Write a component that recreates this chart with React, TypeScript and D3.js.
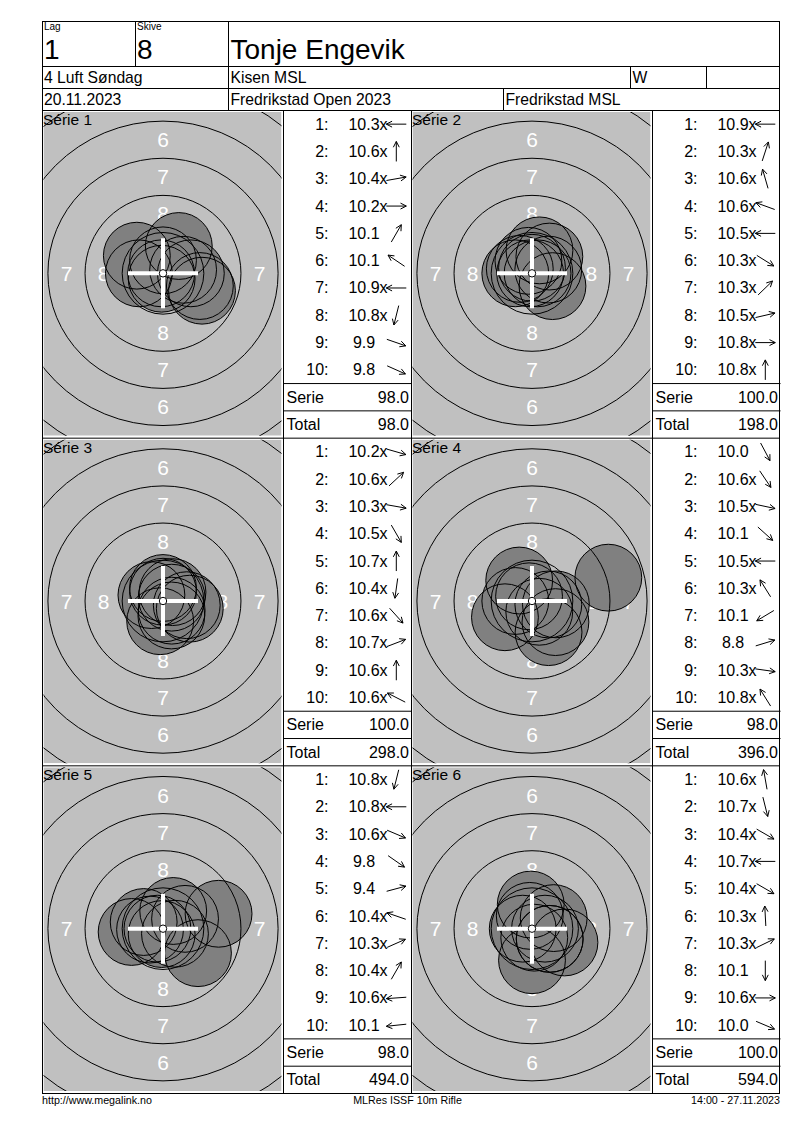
import React from 'react';
import * as d3 from 'd3';

const FONT = '"Liberation Sans", Arial, Helvetica, sans-serif';

// ---------- header / footer texts ----------
const lagLabel = 'Lag';
const lagValue = '1';
const skiveLabel = 'Skive';
const skiveValue = '8';
const shooterName = 'Tonje Engevik';
const klasse = '4 Luft Søndag';
const club = 'Kisen MSL';
const gender = 'W';
const dateText = '20.11.2023';
const competition = 'Fredrikstad Open 2023';
const organiser = 'Fredrikstad MSL';
const footerLeft = 'http://www.megalink.no';
const footerMid = 'MLRes ISSF 10m Rifle';
const footerRight = '14:00 - 27.11.2023';

// ---------- series data ----------
const seriesNames = ['Série 1', 'Série 2', 'Série 3', 'Série 4', 'Série 5', 'Série 6'];

const s1Scores = ['10.3x', '10.6x', '10.4x', '10.2x', '10.1', '10.1', '10.9x', '10.8x', '9.9', '9.8'];
const s1Dirs = [180, 90, 10, 0, 60, 146, 180, 256, -19, -24];

const s2Scores = ['10.9x', '10.3x', '10.6x', '10.6x', '10.5x', '10.3x', '10.3x', '10.5x', '10.8x', '10.8x'];
const s2Dirs = [180, 72, 106, 160, 180, -32, 44, 13, 0, 90];

const s3Scores = ['10.2x', '10.6x', '10.3x', '10.5x', '10.7x', '10.4x', '10.6x', '10.7x', '10.6x', '10.6x'];
const s3Dirs = [-16, 43, -10, -60, 90, 262, -48, 21, 90, 153];

const s4Scores = ['10.0', '10.6x', '10.5x', '10.1', '10.5x', '10.3x', '10.1', '8.8', '10.3x', '10.8x'];
const s4Dirs = [-62, -56, -12, -42, 180, 122, 211, 17, -8, 122];

const s5Scores = ['10.8x', '10.8x', '10.6x', '9.8', '9.4', '10.4x', '10.3x', '10.4x', '10.6x', '10.1'];
const s5Dirs = [256, 180, -23, -35, 15, 161, 24, 60, 184, 186];

const s6Scores = ['10.6x', '10.7x', '10.4x', '10.7x', '10.4x', '10.3x', '10.3x', '10.1', '10.6x', '10.0'];
const s6Dirs = [100, -76, -30, 180, -30, 93, 26, -90, 0, -23];

const serieSums = ['98.0', '100.0', '100.0', '98.0', '98.0', '100.0'];
const runningTotals = ['98.0', '198.0', '298.0', '396.0', '494.0', '594.0'];

const allScores = [s1Scores, s2Scores, s3Scores, s4Scores, s5Scores, s6Scores];
const allDirs = [s1Dirs, s2Dirs, s3Dirs, s4Dirs, s5Dirs, s6Dirs];

// ISSF 10m air rifle target geometry (mm)
const ringDiametersMm = [0.5, 5.5, 10.5, 15.5, 20.5, 25.5, 30.5];
const zoneLabels = [8, 7, 6];
const pelletDiameterMm = 4.5;

// ---------- scales ----------
const mmToPx = d3.scaleLinear().domain([0, 1]).range([0, 14.85]);
const scoreToMm = d3.scaleLinear().domain([10.95, 9.95]).range([0, 2.5]);

// ---------- layout ----------
const LEFT = 42.5;
const RIGHT = 779.5;
const TOP = 21.5;
const ROW1 = 66.5;
const ROW2 = 88.5;
const ROW3 = 110.5;
const BOTTOM = 1093.5;
const PANEL_H = (BOTTOM - ROW3) / 3;
const TARGET_W = 241;
const LIST_W = 128;
const COLS = [LEFT, 411.5];

const charW: Record<string, number> = { '0': 0.556, '1': 0.556, '2': 0.556, '3': 0.556, '4': 0.556, '5': 0.556, '6': 0.556, '7': 0.556, '8': 0.556, '9': 0.556, '.': 0.278 };
const textWidth = (s: string, fs: number) => s.split('').reduce((a, c) => a + (charW[c] ?? 0.556), 0) * fs;

const LIST_FS = 16;

function Arrow({ x, y, angle }: { x: number; y: number; angle: number }) {
  const L = 20;
  const a = (angle * Math.PI) / 180;
  const ux = Math.cos(a);
  const uy = -Math.sin(a);
  const tx = x + (ux * L) / 2;
  const ty = y + (uy * L) / 2;
  const sx = x - (ux * L) / 2;
  const sy = y - (uy * L) / 2;
  const head = 6.5;
  const spread = (27 * Math.PI) / 180;
  const back = Math.atan2(-uy, -ux);
  const b1x = tx + head * Math.cos(back + spread);
  const b1y = ty + head * Math.sin(back + spread);
  const b2x = tx + head * Math.cos(back - spread);
  const b2y = ty + head * Math.sin(back - spread);
  const p = d3.path();
  p.moveTo(sx, sy);
  p.lineTo(tx, ty);
  p.moveTo(b1x, b1y);
  p.lineTo(tx, ty);
  p.lineTo(b2x, b2y);
  return <path d={p.toString()} fill="none" stroke="#000" strokeWidth={1} />;
}

function Panel({ idx }: { idx: number }) {
  const col = idx % 2;
  const row = Math.floor(idx / 2);
  const Lx = COLS[col];
  const top = ROW3 + row * PANEL_H;
  const cx = Lx + 120.5;
  const cy = top + PANEL_H / 2 - 1;
  const scores = allScores[idx];
  const dirs = allDirs[idx];
  const clipId = `clip-${idx}`;
  const shotR = mmToPx(pelletDiameterMm / 2);
  const shots = scores.map((s, i) => {
    const v = parseFloat(s);
    const d = mmToPx(scoreToMm(v));
    const a = (dirs[i] * Math.PI) / 180;
    return { x: cx + d * Math.cos(a), y: cy - d * Math.sin(a) };
  });
  const listX = Lx + TARGET_W;
  const rowH = PANEL_H / 12;
  const crossHalf = 35;
  return (
    <g>
      <defs>
        <clipPath id={clipId}>
          <rect x={Lx + 1} y={top + 1.5} width={238} height={PANEL_H - 4} />
        </clipPath>
      </defs>
      <g clipPath={`url(#${clipId})`}>
        <rect x={Lx + 1} y={top + 1.5} width={238} height={PANEL_H - 4} fill="#c0c0c0" />
        {zoneLabels.map((z) => {
          const dOuter = 0.5 + (10 - z) * 5;
          const dInner = dOuter - 5;
          const r = mmToPx((dOuter + dInner) / 4);
          const pts = [
            [0, -r],
            [0, r],
            [-r, 0],
            [r, 0],
          ];
          return pts.map(([dx, dy], k) => (
            <text
              key={`${z}-${k}`}
              x={cx + dx}
              y={cy + dy}
              textAnchor="middle"
              dominantBaseline="central"
              fill="#fff"
              fontFamily={FONT}
              fontSize={21}
            >
              {z}
            </text>
          ));
        })}
        {shots.map((s, i) => (
          <circle key={`f${i}`} cx={s.x} cy={s.y} r={shotR} fill="#808080" />
        ))}
        {ringDiametersMm.slice(1).map((d, i) => (
          <circle key={`r${i}`} cx={cx} cy={cy} r={mmToPx(d / 2)} fill="none" stroke="#000" strokeWidth={1} />
        ))}
        {shots.map((s, i) => (
          <circle key={`o${i}`} cx={s.x} cy={s.y} r={shotR} fill="none" stroke="#000" strokeWidth={1} />
        ))}
        <line x1={cx - crossHalf} x2={cx + crossHalf} y1={cy} y2={cy} stroke="#fff" strokeWidth={4} />
        <line x1={cx} x2={cx} y1={cy - crossHalf} y2={cy + crossHalf} stroke="#fff" strokeWidth={4} />
        <circle cx={cx} cy={cy} r={mmToPx(ringDiametersMm[0] / 2)} fill="#fff" stroke="#000" strokeWidth={1} />
      </g>
      <text x={Lx + 0.5} y={top + 14.5} fontFamily={FONT} fontSize={15.5} fill="#000">
        {seriesNames[idx]}
      </text>
      {/* score list */}
      {scores.map((s, i) => {
        const y = top + (i + 0.5) * rowH;
        const hasX = s.endsWith('x');
        const num = hasX ? s.slice(0, -1) : s;
        const numCx = listX + 80.5;
        const numEnd = numCx + textWidth(num, LIST_FS) / 2;
        return (
          <g key={`l${i}`} fontFamily={FONT} fontSize={LIST_FS} fill="#000">
            <text x={listX + 45} y={y} textAnchor="end" dominantBaseline="central">
              {`${i + 1}:`}
            </text>
            <text x={numCx} y={y} textAnchor="middle" dominantBaseline="central">
              {num}
            </text>
            {hasX && (
              <text x={numEnd} y={y} dominantBaseline="central">
                x
              </text>
            )}
            <Arrow x={listX + 112.8} y={y} angle={dirs[i]} />
          </g>
        );
      })}
      <line x1={listX} x2={listX + LIST_W} y1={top + 10 * rowH} y2={top + 10 * rowH} stroke="#000" />
      <line x1={listX} x2={listX + LIST_W} y1={top + 11 * rowH} y2={top + 11 * rowH} stroke="#000" />
      <g fontFamily={FONT} fontSize={LIST_FS} fill="#000">
        <text x={listX + 3} y={top + 10.5 * rowH} dominantBaseline="central">Serie</text>
        <text x={listX + 125.5} y={top + 10.5 * rowH} textAnchor="end" dominantBaseline="central">
          {serieSums[idx]}
        </text>
        <text x={listX + 3} y={top + 11.5 * rowH} dominantBaseline="central">Total</text>
        <text x={listX + 125.5} y={top + 11.5 * rowH} textAnchor="end" dominantBaseline="central">
          {runningTotals[idx]}
        </text>
      </g>
    </g>
  );
}

export default function App() {
  const panelIdx = d3.range(6);
  const HF = 15.7;
  return (
    <svg
      width={800}
      height={1130}
      viewBox="0 0 800 1130"
      style={{ position: 'absolute', left: 0, top: 0, background: '#fff' }}
    >
      <rect x={0} y={0} width={800} height={1130} fill="#fff" />
      {panelIdx.map((i) => (
        <Panel key={i} idx={i} />
      ))}
      {/* grid lines */}
      <g stroke="#000" strokeWidth={1} fill="none">
        <rect x={LEFT} y={TOP} width={RIGHT - LEFT} height={BOTTOM - TOP} />
        <line x1={LEFT} x2={RIGHT} y1={ROW1} y2={ROW1} />
        <line x1={LEFT} x2={RIGHT} y1={ROW2} y2={ROW2} />
        <line x1={LEFT} x2={RIGHT} y1={ROW3} y2={ROW3} />
        <line x1={135.5} x2={135.5} y1={TOP} y2={ROW1} />
        <line x1={228.5} x2={228.5} y1={TOP} y2={ROW3} />
        <line x1={630.5} x2={630.5} y1={ROW1} y2={ROW2} />
        <line x1={706.5} x2={706.5} y1={ROW1} y2={ROW2} />
        <line x1={503.5} x2={503.5} y1={ROW2} y2={ROW3} />
        {[1, 2].map((r) => (
          <line key={r} x1={LEFT} x2={RIGHT} y1={ROW3 + r * PANEL_H} y2={ROW3 + r * PANEL_H} />
        ))}
        <line x1={LEFT + TARGET_W} x2={LEFT + TARGET_W} y1={ROW3} y2={BOTTOM} />
        <line x1={COLS[1]} x2={COLS[1]} y1={ROW3} y2={BOTTOM} />
        <line x1={COLS[1] + TARGET_W} x2={COLS[1] + TARGET_W} y1={ROW3} y2={BOTTOM} />
      </g>
      {/* header texts */}
      <g fontFamily={FONT} fill="#000">
        <text x={44} y={30} fontSize={10}>{lagLabel}</text>
        <text x={137} y={30} fontSize={10}>{skiveLabel}</text>
        <text x={44} y={58.5} fontSize={28}>{lagValue}</text>
        <text x={137} y={58.5} fontSize={28}>{skiveValue}</text>
        <text x={230.5} y={58.5} fontSize={28}>{shooterName}</text>
        <text x={44} y={83} fontSize={HF}>{klasse}</text>
        <text x={230.5} y={83} fontSize={HF}>{club}</text>
        <text x={632.5} y={83} fontSize={HF}>{gender}</text>
        <text x={44} y={105} fontSize={HF}>{dateText}</text>
        <text x={230.5} y={105} fontSize={HF}>{competition}</text>
        <text x={505.5} y={105} fontSize={HF}>{organiser}</text>
      </g>
      {/* footer */}
      <g fontFamily={FONT} fill="#000" fontSize={10.7}>
        <text x={42} y={1104}>{footerLeft}</text>
        <text x={407.5} y={1104} textAnchor="middle">{footerMid}</text>
        <text x={780} y={1104} textAnchor="end">{footerRight}</text>
      </g>
    </svg>
  );
}
